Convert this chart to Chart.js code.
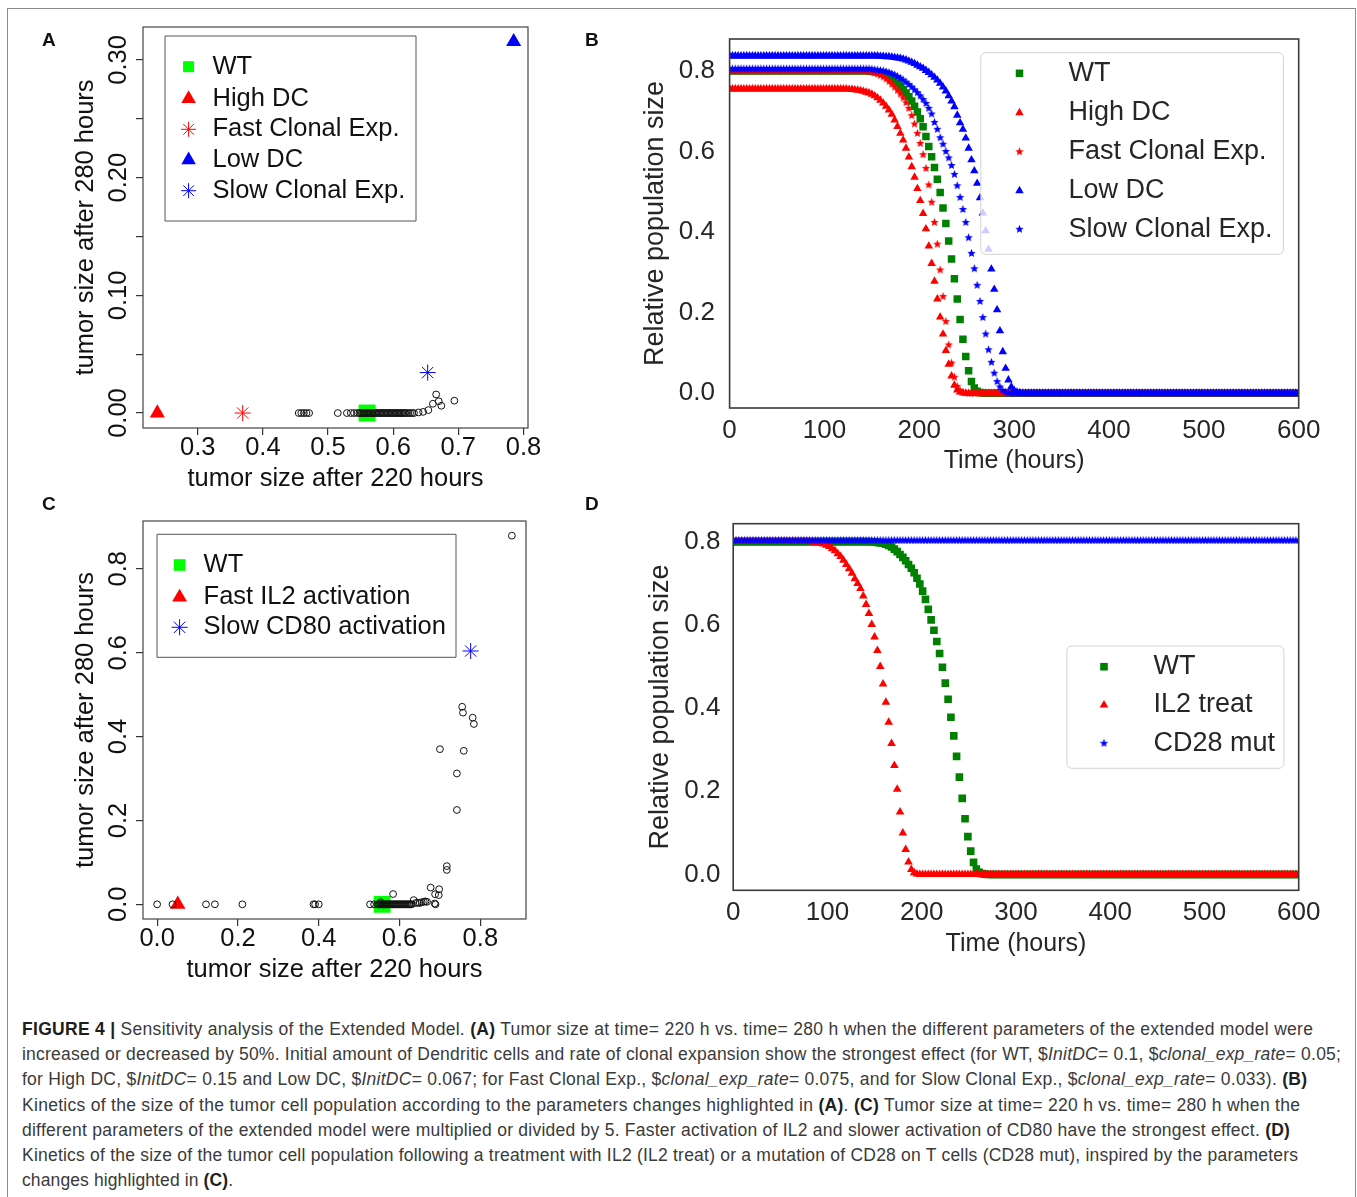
<!DOCTYPE html>
<html lang="en">
<head>
<meta charset="utf-8">
<title>Figure 4</title>
<script src="https://cdn.jsdelivr.net/npm/chart.js@4.4.1/dist/chart.umd.min.js"></script>
<style>
  html, body { margin:0; padding:0; background:#ffffff; }
  body { width:1357px; height:1197px; overflow:hidden; position:relative; font-family:'Liberation Sans', Arial, Helvetica, sans-serif; }
  #frame { position:absolute; left:7px; top:8px; width:1349px; height:1200px; border:1px solid #8c8c8c; box-sizing:border-box; }
  canvas { position:absolute; }
  .plabel { position:absolute; font-weight:bold; font-size:19px; line-height:19px; color:#111; }
  #caption { position:absolute; left:22px; top:1017px; font-size:17.5px; line-height:25.2px; color:#3a3a3a; }
  #caption .ln { white-space:nowrap; }
  #caption b { color:#1e1e1e; }
</style>
</head>
<body>
<div id="frame"></div>
<canvas id="chartA" width="565" height="495" style="left:0px;top:0px"></canvas>
<canvas id="chartB" width="792" height="495" style="left:565px;top:0px"></canvas>
<canvas id="chartC" width="565" height="505" style="left:0px;top:495px"></canvas>
<canvas id="chartD" width="792" height="505" style="left:565px;top:495px"></canvas>
<div class="plabel" style="left:42px;top:30px">A</div>
<div class="plabel" style="left:585px;top:30px">B</div>
<div class="plabel" style="left:42px;top:493.5px">C</div>
<div class="plabel" style="left:585px;top:493.5px">D</div>
<div id="caption">
<div class="ln"><span><b>FIGURE 4 |</b> Sensitivity analysis of the Extended Model. <b>(A)</b> Tumor size at time= 220 h vs. time= 280 h when the different parameters of the extended model were</span></div>
<div class="ln"><span>increased or decreased by 50%. Initial amount of Dendritic cells and rate of clonal expansion show the strongest effect (for WT, $<i>InitDC</i>= 0.1, $<i>clonal_exp_rate</i>= 0.05;</span></div>
<div class="ln"><span>for High DC, $<i>InitDC</i>= 0.15 and Low DC, $<i>InitDC</i>= 0.067; for Fast Clonal Exp., $<i>clonal_exp_rate</i>= 0.075, and for Slow Clonal Exp., $<i>clonal_exp_rate</i>= 0.033). <b>(B)</b></span></div>
<div class="ln"><span>Kinetics of the size of the tumor cell population according to the parameters changes highlighted in <b>(A)</b>. <b>(C)</b> Tumor size at time= 220 h vs. time= 280 h when the</span></div>
<div class="ln"><span>different parameters of the extended model were multiplied or divided by 5. Faster activation of IL2 and slower activation of CD80 have the strongest effect. <b>(D)</b></span></div>
<div class="ln"><span>Kinetics of the size of the tumor cell population following a treatment with IL2 (IL2 treat) or a mutation of CD28 on T cells (CD28 mut), inspired by the parameters</span></div>
<div class="ln"><span>changes highlighted in <b>(C)</b>.</span></div>
</div>

<script>
// ===================== DATA =====================
// ---- Panel A : tumor size after 220 h vs after 280 h (parameters +/- 50%) ----
const aSeriesLabels = ['WT', 'High DC', 'Fast Clonal Exp.', 'Low DC', 'Slow Clonal Exp.'];
const aSeriesX = [0.560, 0.238, 0.369, 0.785, 0.653];
const aSeriesY = [0.000, 0.000, 0.000, 0.3155, 0.0344];
const aOtherX = [
  0.455,0.459,0.463,0.467,0.471,
  0.515,0.529,0.535,0.540,0.545,
  0.548,0.550,0.552,0.554,0.556,0.558,0.560,0.562,0.564,0.566,
  0.568,0.570,0.572,0.574,0.576,0.578,0.580,0.582,0.584,0.586,
  0.588,0.590,0.592,0.594,0.596,0.598,0.600,0.602,0.604,0.606,
  0.608,0.610,0.612,0.614,0.616,0.618,0.620,
  0.623,0.626,0.629,0.632,
  0.639,0.646,0.654,0.661,0.666,0.670,0.674,0.694
];
const aOtherY = [
  0,0,0,0,0,
  0,0,0,0,0,
  0,0,0,0,0,0,0,0,0,0,
  0,0,0,0,0,0,0,0,0,0,
  0,0,0,0,0,0,0,0,0,0,
  0,0,0,0,0,0,0,
  0,0,0,0,
  0.0005,0.0010,0.0025,0.0079,0.0158,0.0100,0.0062,0.0105
];
const aXTicks = [0.3, 0.4, 0.5, 0.6, 0.7, 0.8];
const aXTickLabels = ['0.3', '0.4', '0.5', '0.6', '0.7', '0.8'];
const aYTicks = [0, 0.05, 0.10, 0.15, 0.20, 0.25, 0.30];
const aYTickLabels = ['0.00', '', '0.10', '', '0.20', '', '0.30'];

// ---- Panel C : tumor size after 220 h vs after 280 h (parameters x/÷ 5) ----
const cSeriesLabels = ['WT', 'Fast IL2 activation', 'Slow CD80 activation'];
const cSeriesX = [0.557, 0.051, 0.776];
const cSeriesY = [0.000, 0.000, 0.604];
const cOtherX = [
  0.000,0.038,0.121,0.143,0.211,0.387,0.391,0.400,0.527,0.537,
  0.545,0.548,0.550,0.553,0.555,0.558,0.560,0.563,0.565,0.568,
  0.570,0.573,0.575,0.578,0.580,0.583,0.585,0.588,0.590,0.593,
  0.595,0.598,0.600,0.603,0.605,0.608,0.610,0.613,0.615,0.618,
  0.620,0.623,0.625,0.628,0.630,
  0.640,0.645,0.650,0.655,0.660,0.664,0.668,
  0.553,0.584,0.635,0.677,0.688,0.697,0.698,0.687,0.689,0.717,
  0.717,0.700,0.742,0.742,0.755,0.757,0.759,0.781,0.784,0.878
];
const cOtherY = [
  0,0,0,0,0,0,0,0,0,0,
  0,0,0,0,0,0,0,0,0,0,
  0,0,0,0,0,0,0,0,0,0,
  0,0,0,0,0,0,0,0,0,0,
  0,0,0,0,0,
  0.003,0.004,0.003,0.005,0.006,0.007,0.006,
  0.005,0.0245,0.010,0.040,0.024,0.022,0.036,0.002,0.000,0.091,
  0.082,0.370,0.225,0.312,0.471,0.457,0.366,0.445,0.430,0.879
];
const cXTicks = [0, 0.2, 0.4, 0.6, 0.8];
const cXTickLabels = ['0.0', '0.2', '0.4', '0.6', '0.8'];
const cYTicks = [0, 0.2, 0.4, 0.6, 0.8];
const cYTickLabels = ['0.0', '0.2', '0.4', '0.6', '0.8'];

// ---- Panels B and D : relative population size over time ----
const timeHours = [
  0,3,6,9,12,15,18,21,24,27,
  30,33,36,39,42,45,48,51,54,57,
  60,63,66,69,72,75,78,81,84,87,
  90,93,96,99,102,105,108,111,114,117,
  120,123,126,129,132,135,138,141,144,147,
  150,153,156,159,162,165,168,171,174,177,
  180,183,186,189,192,195,198,201,204,207,
  210,213,216,219,222,225,228,231,234,237,
  240,243,246,249,252,255,258,261,264,267,
  270,273,276,279,282,285,288,291,294,297,
  300,303,306,309,312,315,318,321,324,327,
  330,333,336,339,342,345,348,351,354,357,
  360,363,366,369,372,375,378,381,384,387,
  390,393,396,399,402,405,408,411,414,417,
  420,423,426,429,432,435,438,441,444,447,
  450,453,456,459,462,465,468,471,474,477,
  480,483,486,489,492,495,498,501,504,507,
  510,513,516,519,522,525,528,531,534,537,
  540,543,546,549,552,555,558,561,564,567,
  570,573,576,579,582,585,588,591,594,597,
  600
];
const wtSize = [
  0.800,0.800,0.800,0.800,0.800,0.800,0.800,0.800,0.800,0.800,
  0.800,0.800,0.800,0.800,0.800,0.800,0.800,0.800,0.800,0.800,
  0.800,0.800,0.800,0.800,0.800,0.800,0.800,0.800,0.800,0.800,
  0.800,0.800,0.800,0.800,0.800,0.800,0.800,0.800,0.800,0.800,
  0.800,0.800,0.800,0.800,0.800,0.800,0.800,0.800,0.800,0.799,
  0.799,0.798,0.797,0.796,0.794,0.791,0.787,0.782,0.776,0.769,
  0.762,0.754,0.745,0.736,0.725,0.712,0.698,0.681,0.661,0.637,
  0.612,0.587,0.560,0.531,0.498,0.460,0.421,0.378,0.333,0.284,
  0.234,0.183,0.134,0.091,0.056,0.029,0.013,0.005,0.002,0.001,
  0,0,0,0,0,0,0,0,0,0,
  0,0,0,0,0,0,0,0,0,0,
  0,0,0,0,0,0,0,0,0,0,
  0,0,0,0,0,0,0,0,0,0,
  0,0,0,0,0,0,0,0,0,0,
  0,0,0,0,0,0,0,0,0,0,
  0,0,0,0,0,0,0,0,0,0,
  0,0,0,0,0,0,0,0,0,0,
  0,0,0,0,0,0,0,0,0,0,
  0,0,0,0,0,0,0,0,0,0,
  0,0,0,0,0,0,0,0,0,0,
  0
];
const highDCSize = [
  0.755,0.755,0.755,0.755,0.755,0.755,0.755,0.755,0.755,0.755,
  0.755,0.755,0.755,0.755,0.755,0.755,0.755,0.755,0.755,0.755,
  0.755,0.755,0.755,0.755,0.755,0.755,0.755,0.755,0.755,0.755,
  0.755,0.755,0.755,0.755,0.755,0.755,0.755,0.755,0.755,0.755,
  0.755,0.755,0.754,0.754,0.753,0.752,0.751,0.749,0.747,0.745,
  0.742,0.738,0.733,0.727,0.720,0.712,0.703,0.692,0.678,0.662,
  0.645,0.628,0.608,0.586,0.562,0.536,0.508,0.478,0.446,0.408,
  0.365,0.322,0.278,0.234,0.189,0.147,0.106,0.072,0.043,0.020,
  0.008,0.003,0.001,0,0,0,0,0,0,0,
  0,0,0,0,0,0,0,0,0,0,
  0,0,0,0,0,0,0,0,0,0,
  0,0,0,0,0,0,0,0,0,0,
  0,0,0,0,0,0,0,0,0,0,
  0,0,0,0,0,0,0,0,0,0,
  0,0,0,0,0,0,0,0,0,0,
  0,0,0,0,0,0,0,0,0,0,
  0,0,0,0,0,0,0,0,0,0,
  0,0,0,0,0,0,0,0,0,0,
  0,0,0,0,0,0,0,0,0,0,
  0,0,0,0,0,0,0,0,0,0,
  0
];
const fastCESize = [
  0.800,0.800,0.800,0.800,0.800,0.800,0.800,0.800,0.800,0.800,
  0.800,0.800,0.800,0.800,0.800,0.800,0.800,0.800,0.800,0.800,
  0.800,0.800,0.800,0.800,0.800,0.800,0.800,0.800,0.800,0.800,
  0.800,0.800,0.800,0.800,0.800,0.800,0.800,0.800,0.800,0.800,
  0.800,0.800,0.800,0.800,0.800,0.800,0.800,0.800,0.799,0.798,
  0.797,0.795,0.792,0.789,0.785,0.780,0.774,0.767,0.760,0.752,
  0.743,0.733,0.721,0.707,0.689,0.668,0.645,0.620,0.592,0.558,
  0.517,0.474,0.424,0.370,0.306,0.240,0.178,0.120,0.075,0.040,
  0.017,0.006,0.002,0.001,0,0,0,0,0,0,
  0,0,0,0,0,0,0,0,0,0,
  0,0,0,0,0,0,0,0,0,0,
  0,0,0,0,0,0,0,0,0,0,
  0,0,0,0,0,0,0,0,0,0,
  0,0,0,0,0,0,0,0,0,0,
  0,0,0,0,0,0,0,0,0,0,
  0,0,0,0,0,0,0,0,0,0,
  0,0,0,0,0,0,0,0,0,0,
  0,0,0,0,0,0,0,0,0,0,
  0,0,0,0,0,0,0,0,0,0,
  0,0,0,0,0,0,0,0,0,0,
  0
];
const lowDCSize = [
  0.837,0.837,0.837,0.837,0.837,0.837,0.837,0.837,0.837,0.837,
  0.837,0.837,0.837,0.837,0.837,0.837,0.837,0.837,0.837,0.837,
  0.837,0.837,0.837,0.837,0.837,0.837,0.837,0.837,0.837,0.837,
  0.837,0.837,0.837,0.837,0.837,0.837,0.837,0.837,0.837,0.837,
  0.837,0.837,0.837,0.837,0.837,0.837,0.837,0.837,0.837,0.837,
  0.837,0.837,0.837,0.836,0.836,0.835,0.835,0.834,0.833,0.832,
  0.831,0.829,0.827,0.824,0.821,0.818,0.814,0.810,0.806,0.801,
  0.796,0.790,0.784,0.777,0.769,0.760,0.750,0.738,0.725,0.711,
  0.690,0.671,0.655,0.633,0.608,0.579,0.552,0.521,0.485,0.447,
  0.403,0.357,0.308,0.258,0.207,0.155,0.103,0.062,0.033,0.016,
  0.007,0.003,0.001,0,0,0,0,0,0,0,
  0,0,0,0,0,0,0,0,0,0,
  0,0,0,0,0,0,0,0,0,0,
  0,0,0,0,0,0,0,0,0,0,
  0,0,0,0,0,0,0,0,0,0,
  0,0,0,0,0,0,0,0,0,0,
  0,0,0,0,0,0,0,0,0,0,
  0,0,0,0,0,0,0,0,0,0,
  0,0,0,0,0,0,0,0,0,0,
  0,0,0,0,0,0,0,0,0,0,
  0
];
const slowCESize = [
  0.805,0.805,0.805,0.805,0.805,0.805,0.805,0.805,0.805,0.805,
  0.805,0.805,0.805,0.805,0.805,0.805,0.805,0.805,0.805,0.805,
  0.805,0.805,0.805,0.805,0.805,0.805,0.805,0.805,0.805,0.805,
  0.805,0.805,0.805,0.805,0.805,0.805,0.805,0.805,0.805,0.805,
  0.805,0.805,0.805,0.805,0.805,0.805,0.805,0.805,0.805,0.805,
  0.804,0.803,0.802,0.801,0.800,0.798,0.796,0.793,0.790,0.786,
  0.782,0.777,0.772,0.766,0.760,0.753,0.746,0.738,0.729,0.719,
  0.707,0.693,0.672,0.655,0.634,0.618,0.600,0.584,0.565,0.543,
  0.515,0.486,0.456,0.424,0.386,0.347,0.309,0.268,0.228,0.188,
  0.147,0.108,0.077,0.050,0.029,0.016,0.007,0.003,0.001,0,
  0,0,0,0,0,0,0,0,0,0,
  0,0,0,0,0,0,0,0,0,0,
  0,0,0,0,0,0,0,0,0,0,
  0,0,0,0,0,0,0,0,0,0,
  0,0,0,0,0,0,0,0,0,0,
  0,0,0,0,0,0,0,0,0,0,
  0,0,0,0,0,0,0,0,0,0,
  0,0,0,0,0,0,0,0,0,0,
  0,0,0,0,0,0,0,0,0,0,
  0,0,0,0,0,0,0,0,0,0,
  0
];
const il2TreatSize = [
  0.800,0.800,0.800,0.800,0.800,0.800,0.800,0.800,0.800,0.800,
  0.800,0.800,0.800,0.800,0.800,0.800,0.800,0.800,0.800,0.800,
  0.800,0.800,0.800,0.800,0.800,0.800,0.800,0.800,0.799,0.798,
  0.797,0.796,0.794,0.791,0.788,0.783,0.778,0.771,0.764,0.755,
  0.745,0.735,0.724,0.711,0.699,0.687,0.669,0.649,0.627,0.601,
  0.571,0.538,0.500,0.458,0.414,0.366,0.315,0.262,0.205,0.150,
  0.100,0.060,0.030,0.012,0.004,0.001,0,0,0,0,
  0,0,0,0,0,0,0,0,0,0,
  0,0,0,0,0,0,0,0,0,0,
  0,0,0,0,0,0,0,0,0,0,
  0,0,0,0,0,0,0,0,0,0,
  0,0,0,0,0,0,0,0,0,0,
  0,0,0,0,0,0,0,0,0,0,
  0,0,0,0,0,0,0,0,0,0,
  0,0,0,0,0,0,0,0,0,0,
  0,0,0,0,0,0,0,0,0,0,
  0,0,0,0,0,0,0,0,0,0,
  0,0,0,0,0,0,0,0,0,0,
  0,0,0,0,0,0,0,0,0,0,
  0,0,0,0,0,0,0,0,0,0,
  0
];
const cd28MutSize = [
  0.803,0.803,0.803,0.803,0.803,0.803,0.803,0.803,0.803,0.803,
  0.803,0.803,0.803,0.803,0.803,0.803,0.803,0.803,0.803,0.803,
  0.803,0.803,0.803,0.803,0.803,0.803,0.803,0.803,0.803,0.803,
  0.803,0.803,0.803,0.803,0.803,0.803,0.803,0.803,0.803,0.803,
  0.803,0.803,0.803,0.803,0.803,0.803,0.803,0.803,0.803,0.803,
  0.803,0.803,0.803,0.803,0.803,0.803,0.803,0.803,0.803,0.803,
  0.803,0.803,0.803,0.803,0.803,0.803,0.803,0.803,0.803,0.803,
  0.803,0.803,0.803,0.803,0.803,0.803,0.803,0.803,0.803,0.803,
  0.803,0.803,0.803,0.803,0.803,0.803,0.803,0.803,0.803,0.803,
  0.803,0.803,0.803,0.803,0.803,0.803,0.803,0.803,0.803,0.803,
  0.803,0.803,0.803,0.803,0.803,0.803,0.803,0.803,0.803,0.803,
  0.803,0.803,0.803,0.803,0.803,0.803,0.803,0.803,0.803,0.803,
  0.803,0.803,0.803,0.803,0.803,0.803,0.803,0.803,0.803,0.803,
  0.803,0.803,0.803,0.803,0.803,0.803,0.803,0.803,0.803,0.803,
  0.803,0.803,0.803,0.803,0.803,0.803,0.803,0.803,0.803,0.803,
  0.803,0.803,0.803,0.803,0.803,0.803,0.803,0.803,0.803,0.803,
  0.803,0.803,0.803,0.803,0.803,0.803,0.803,0.803,0.803,0.803,
  0.803,0.803,0.803,0.803,0.803,0.803,0.803,0.803,0.803,0.803,
  0.803,0.803,0.803,0.803,0.803,0.803,0.803,0.803,0.803,0.803,
  0.803,0.803,0.803,0.803,0.803,0.803,0.803,0.803,0.803,0.803,
  0.803
];
const bLabels = ['WT', 'High DC', 'Fast Clonal Exp.', 'Low DC', 'Slow Clonal Exp.'];
const dLabels = ['WT', 'IL2 treat', 'CD28 mut'];
const timeTicks = [0, 100, 200, 300, 400, 500, 600];
const timeTickLabels = ['0', '100', '200', '300', '400', '500', '600'];
const popTicks = [0, 0.2, 0.4, 0.6, 0.8];
const popTickLabels = ['0.0', '0.2', '0.4', '0.6', '0.8'];

// ===================== RENDERING =====================
const FAM = "'Liberation Sans', Arial, Helvetica, sans-serif";
const R_GREEN = '#00ff00', R_RED = '#ff0000', R_BLUE = '#0000ff';
const M_GREEN = '#008000', M_RED = '#ff0000', M_BLUE = '#0000ff';
const R_TEXT = '#111111', M_TEXT = '#262626';

[wtSize, highDCSize, fastCESize, lowDCSize, slowCESize, il2TreatSize, cd28MutSize].forEach((a, k) => {
  if (a.length !== timeHours.length) console.error('length mismatch', k, a.length, timeHours.length);
});

function series(xs, ys) { return xs.map((x, i) => ({ x: x, y: ys[i] })); }

function starMarker(color, R) {
  const s = Math.ceil(R * 2 + 2);
  const c = document.createElement('canvas');
  c.width = s; c.height = s;
  const g = c.getContext('2d');
  g.fillStyle = color;
  g.beginPath();
  for (let k = 0; k < 10; k++) {
    const rr = (k % 2 === 0) ? R : R * 0.45;
    const a = -Math.PI / 2 + k * Math.PI / 5;
    const px = s / 2 + rr * Math.cos(a), py = s / 2 + rr * Math.sin(a);
    if (k === 0) g.moveTo(px, py); else g.lineTo(px, py);
  }
  g.closePath();
  g.fill();
  return c;
}

function drawMarker(ctx, style, r, x, y, fill, stroke, bw) {
  ctx.save();
  if (typeof style === 'object') {
    ctx.drawImage(style, x - style.width / 2, y - style.height / 2, style.width, style.height);
    ctx.restore();
    return;
  }
  ctx.beginPath();
  if (style === 'rect') {
    const s = r * Math.SQRT1_2;
    ctx.rect(x - s, y - s, 2 * s, 2 * s);
    ctx.fillStyle = fill; ctx.fill();
  } else if (style === 'triangle') {
    const t = 2 * Math.PI / 3;
    ctx.moveTo(x, y - r);
    ctx.lineTo(x + Math.sin(t) * r, y - Math.cos(t) * r);
    ctx.lineTo(x + Math.sin(2 * t) * r, y - Math.cos(2 * t) * r);
    ctx.closePath();
    ctx.fillStyle = fill; ctx.fill();
  } else if (style === 'star') {
    const d = r * Math.SQRT1_2;
    ctx.moveTo(x, y - r); ctx.lineTo(x, y + r);
    ctx.moveTo(x - r, y); ctx.lineTo(x + r, y);
    ctx.moveTo(x - d, y - d); ctx.lineTo(x + d, y + d);
    ctx.moveTo(x - d, y + d); ctx.lineTo(x + d, y - d);
    ctx.strokeStyle = stroke; ctx.lineWidth = bw || 1; ctx.stroke();
  }
  ctx.restore();
}

function pathRound(ctx, x, y, w, h, r) {
  ctx.beginPath();
  ctx.moveTo(x + r, y);
  ctx.arcTo(x + w, y, x + w, y + h, r);
  ctx.arcTo(x + w, y + h, x, y + h, r);
  ctx.arcTo(x, y + h, x, y, r);
  ctx.arcTo(x, y, x + w, y, r);
  ctx.closePath();
}

function framePlugin(color, width) {
  return {
    id: 'frameBox',
    afterDatasetsDraw(chart) {
      const a = chart.chartArea, ctx = chart.ctx;
      ctx.save();
      ctx.strokeStyle = color; ctx.lineWidth = width;
      ctx.strokeRect(a.left, a.top, a.right - a.left, a.bottom - a.top);
      ctx.restore();
    }
  };
}

function rotatedYLabels(values, labels, baselineX, font, color) {
  return {
    id: 'rotYLabels',
    afterDraw(chart) {
      const ys = chart.scales.y, ctx = chart.ctx;
      ctx.save();
      ctx.font = font; ctx.fillStyle = color;
      ctx.textAlign = 'center'; ctx.textBaseline = 'alphabetic';
      values.forEach((v, i) => {
        if (!labels[i]) return;
        const py = ys.getPixelForValue(v);
        ctx.save();
        ctx.translate(baselineX, py);
        ctx.rotate(-Math.PI / 2);
        ctx.fillText(labels[i], 0, 0);
        ctx.restore();
      });
      ctx.restore();
    }
  };
}

function boxLegend(cfg) {
  return {
    id: 'boxLegend',
    afterDatasetsDraw(chart) {
      const ctx = chart.ctx;
      ctx.save();
      pathRound(ctx, cfg.x, cfg.y, cfg.w, cfg.h, cfg.radius || 0.01);
      if (cfg.fill) { ctx.fillStyle = cfg.fill; ctx.fill(); }
      ctx.strokeStyle = cfg.stroke; ctx.lineWidth = cfg.lineWidth; ctx.stroke();
      cfg.items.forEach((it, i) => {
        const ds = chart.data.datasets[it.ds];
        const y = cfg.rows[i];
        drawMarker(ctx, ds.pointStyle, it.r, cfg.markerX, y, ds.backgroundColor, ds.borderColor, ds.borderWidth);
        ctx.fillStyle = cfg.textColor; ctx.font = cfg.font;
        ctx.textAlign = 'left'; ctx.textBaseline = 'middle';
        ctx.fillText(ds.label, cfg.textX, y);
      });
      ctx.restore();
    }
  };
}

function fixedTicks(values) {
  return function (scale) { scale.ticks = values.map(v => ({ value: v })); };
}

function baseOptions(pad) {
  return {
    responsive: false, maintainAspectRatio: false, animation: false, events: [],
    layout: { padding: pad },
    plugins: { legend: { display: false }, tooltip: { enabled: false }, title: { display: false } }
  };
}

// ---------- R-style scatter panels (A, C) ----------
function rScales(o) {
  return {
    x: {
      type: 'linear', position: 'bottom', min: o.xMin, max: o.xMax, bounds: 'data',
      afterBuildTicks: fixedTicks(o.xTicks),
      afterFit: s => { s.height = o.xHeight; },
      ticks: { display: true, autoSkip: false, maxRotation: 0, minRotation: 0, padding: o.xTickPad,
               font: { family: FAM, size: 25.5, lineHeight: 1 }, color: R_TEXT,
               callback: (v, i) => o.xTickLabels[i] },
      grid: { display: true, drawOnChartArea: false, drawTicks: true, tickLength: 7, color: '#333', lineWidth: 1.2 },
      border: { display: false },
      title: { display: true, text: o.xTitle, color: R_TEXT, font: { family: FAM, size: 25.5, lineHeight: 1.2 },
               padding: { top: 0, bottom: o.xTitlePad } }
    },
    y: {
      type: 'linear', position: 'left', min: o.yMin, max: o.yMax, bounds: 'data',
      afterBuildTicks: fixedTicks(o.yTicks),
      afterFit: s => { s.width = o.yWidth; },
      ticks: { display: false },
      grid: { display: true, drawOnChartArea: false, drawTicks: true, tickLength: 7, color: '#333', lineWidth: 1.2 },
      border: { display: false },
      title: { display: true, text: o.yTitle, color: R_TEXT, font: { family: FAM, size: 25.5, lineHeight: 1.2 },
               padding: { top: o.yTitlePad, bottom: 0 } }
    }
  };
}

// Panel A
new Chart(document.getElementById('chartA'), {
  type: 'scatter',
  data: { datasets: [
    { label: aSeriesLabels[0], data: [{ x: aSeriesX[0], y: aSeriesY[0] }], pointStyle: 'rect', pointRadius: 12,
      backgroundColor: R_GREEN, borderColor: R_GREEN, borderWidth: 0, order: 5, clip: false },
    { label: aSeriesLabels[1], data: [{ x: aSeriesX[1], y: aSeriesY[1] }], pointStyle: 'triangle', pointRadius: 8.7,
      backgroundColor: R_RED, borderColor: R_RED, borderWidth: 0, order: 4, clip: false },
    { label: aSeriesLabels[2], data: [{ x: aSeriesX[2], y: aSeriesY[2] }], pointStyle: 'star', pointRadius: 8,
      backgroundColor: R_RED, borderColor: R_RED, borderWidth: 1, order: 3, clip: false },
    { label: aSeriesLabels[3], data: [{ x: aSeriesX[3], y: aSeriesY[3] }], pointStyle: 'triangle', pointRadius: 8.7,
      backgroundColor: R_BLUE, borderColor: R_BLUE, borderWidth: 0, order: 2, clip: false },
    { label: aSeriesLabels[4], data: [{ x: aSeriesX[4], y: aSeriesY[4] }], pointStyle: 'star', pointRadius: 8,
      backgroundColor: R_BLUE, borderColor: R_BLUE, borderWidth: 1, order: 1, clip: false },
    { label: '', data: series(aOtherX, aOtherY), pointStyle: 'circle', pointRadius: 3.4,
      backgroundColor: 'rgba(0,0,0,0)', borderColor: '#111', borderWidth: 1, order: 0, clip: false }
  ] },
  options: Object.assign(baseOptions({ left: 0, top: 27, right: 37, bottom: 0 }), {
    scales: rScales({ xMin: 0.216, xMax: 0.807, yMin: -0.0127, yMax: 0.328,
      xTicks: aXTicks, xTickLabels: aXTickLabels, yTicks: aYTicks,
      xHeight: 67, yWidth: 143, xTickPad: 0, xTitlePad: 0.5, yTitlePad: 71,
      xTitle: 'tumor size after 220 hours', yTitle: 'tumor size after 280 hours' })
  }),
  plugins: [
    framePlugin('#444', 1.2),
    rotatedYLabels(aYTicks, aYTickLabels, 126, "25.5px " + FAM, R_TEXT),
    boxLegend({ x: 165, y: 36, w: 251, h: 185, radius: 0, stroke: '#555', lineWidth: 1, fill: null,
      rows: [66.7, 98.7, 129.3, 160, 190.7], markerX: 188.6, textX: 212.5,
      font: "25.5px " + FAM, textColor: R_TEXT,
      items: [{ ds: 0, r: 7.8 }, { ds: 1, r: 8.4 }, { ds: 2, r: 7.5 }, { ds: 3, r: 8.4 }, { ds: 4, r: 7.5 }] })
  ]
});

// Panel C
new Chart(document.getElementById('chartC'), {
  type: 'scatter',
  data: { datasets: [
    { label: cSeriesLabels[0], data: [{ x: cSeriesX[0], y: cSeriesY[0] }], pointStyle: 'rect', pointRadius: 11.9,
      backgroundColor: R_GREEN, borderColor: R_GREEN, borderWidth: 0, order: 3, clip: false },
    { label: cSeriesLabels[1], data: [{ x: cSeriesX[1], y: cSeriesY[1] }], pointStyle: 'triangle', pointRadius: 8.9,
      backgroundColor: R_RED, borderColor: R_RED, borderWidth: 0, order: 2, clip: false },
    { label: cSeriesLabels[2], data: [{ x: cSeriesX[2], y: cSeriesY[2] }], pointStyle: 'star', pointRadius: 8,
      backgroundColor: R_BLUE, borderColor: R_BLUE, borderWidth: 1, order: 1, clip: false },
    { label: '', data: series(cOtherX, cOtherY), pointStyle: 'circle', pointRadius: 3.4,
      backgroundColor: 'rgba(0,0,0,0)', borderColor: '#111', borderWidth: 1, order: 0, clip: false }
  ] },
  options: Object.assign(baseOptions({ left: 0, top: 26, right: 39, bottom: 0 }), {
    scales: rScales({ xMin: -0.035, xMax: 0.913, yMin: -0.035, yMax: 0.914,
      xTicks: cXTicks, xTickLabels: cXTickLabels, yTicks: cYTicks,
      xHeight: 81, yWidth: 143, xTickPad: 0, xTitlePad: 14.7, yTitlePad: 71,
      xTitle: 'tumor size after 220 hours', yTitle: 'tumor size after 280 hours' })
  }),
  plugins: [
    framePlugin('#444', 1.2),
    rotatedYLabels(cYTicks, cYTickLabels, 126, "25.5px " + FAM, R_TEXT),
    boxLegend({ x: 157, y: 39.3, w: 299, h: 123, radius: 0, stroke: '#555', lineWidth: 1, fill: null,
      rows: [70, 102.3, 132.3], markerX: 179.6, textX: 203.6,
      font: "25.5px " + FAM, textColor: R_TEXT,
      items: [{ ds: 0, r: 8.2 }, { ds: 1, r: 8.6 }, { ds: 2, r: 8 }] })
  ]
});

// ---------- matplotlib-style time-course panels (B, D) ----------
function mScales(o) {
  return {
    x: {
      type: 'linear', position: 'bottom', min: 0, max: 600, bounds: 'data',
      afterBuildTicks: fixedTicks(timeTicks),
      afterFit: s => { s.height = o.xHeight; },
      ticks: { display: true, autoSkip: false, maxRotation: 0, minRotation: 0, padding: o.xTickPad,
               font: { family: FAM, size: 26, lineHeight: 1.2 }, color: M_TEXT,
               callback: (v, i) => timeTickLabels[i] },
      grid: { display: false, drawTicks: false },
      border: { display: false },
      title: { display: true, text: 'Time (hours)', color: M_TEXT, font: { family: FAM, size: 25, lineHeight: 1.2 },
               padding: { top: 0, bottom: o.xTitlePad } }
    },
    y: {
      type: 'linear', position: 'left', min: o.yMin, max: o.yMax, bounds: 'data',
      afterBuildTicks: fixedTicks(popTicks),
      afterFit: s => { s.width = o.yWidth; },
      ticks: { display: true, autoSkip: false, padding: o.yTickPad,
               font: { family: FAM, size: 26, lineHeight: 1.2 }, color: M_TEXT,
               callback: (v, i) => popTickLabels[i] },
      grid: { display: false, drawTicks: false },
      border: { display: false },
      title: { display: true, text: 'Relative population size', color: M_TEXT, font: { family: FAM, size: 27, lineHeight: 1.2 },
               padding: { top: o.yTitlePad, bottom: 0 } }
    }
  };
}

const starRed = starMarker(M_RED, 4.4);
const starBlue = starMarker(M_BLUE, 4.4);

// Panel B
new Chart(document.getElementById('chartB'), {
  type: 'scatter',
  data: { datasets: [
    { label: bLabels[0], data: series(timeHours, wtSize), pointStyle: 'rect', pointRadius: 5.3,
      backgroundColor: M_GREEN, borderColor: M_GREEN, borderWidth: 0, order: 5 },
    { label: bLabels[1], data: series(timeHours, highDCSize), pointStyle: 'triangle', pointRadius: 4.9,
      backgroundColor: M_RED, borderColor: M_RED, borderWidth: 0, order: 4 },
    { label: bLabels[2], data: series(timeHours, fastCESize), pointStyle: starRed, pointRadius: 4.4,
      backgroundColor: M_RED, borderColor: M_RED, borderWidth: 0, order: 3 },
    { label: bLabels[3], data: series(timeHours, lowDCSize), pointStyle: 'triangle', pointRadius: 4.9,
      backgroundColor: M_BLUE, borderColor: M_BLUE, borderWidth: 0, order: 2 },
    { label: bLabels[4], data: series(timeHours, slowCESize), pointStyle: starBlue, pointRadius: 4.4,
      backgroundColor: M_BLUE, borderColor: M_BLUE, borderWidth: 0, order: 1 }
  ] },
  options: Object.assign(baseOptions({ left: 0, top: 39, right: 58.3, bottom: 0 }), {
    scales: mScales({ yMin: -0.0365, yMax: 0.879, xHeight: 87, yWidth: 164.6,
      xTickPad: 7.6, yTickPad: 14.6, xTitlePad: 18.8, yTitlePad: 74.5 })
  }),
  plugins: [
    framePlugin('#3a3a3a', 1.6),
    boxLegend({ x: 415.8, y: 52.7, w: 302.6, h: 201.6, radius: 5, stroke: '#d2d2d2', lineWidth: 1,
      fill: 'rgba(255,255,255,0.8)',
      rows: [73.3, 112.7, 151.7, 190.7, 229.3], markerX: 454.5, textX: 503.4,
      font: "27px " + FAM, textColor: M_TEXT,
      items: [{ ds: 0, r: 5.3 }, { ds: 1, r: 4.9 }, { ds: 2, r: 4.4 }, { ds: 3, r: 4.9 }, { ds: 4, r: 4.4 }] })
  ]
});

// Panel D
new Chart(document.getElementById('chartD'), {
  type: 'scatter',
  data: { datasets: [
    { label: dLabels[0], data: series(timeHours, wtSize), pointStyle: 'rect', pointRadius: 5.4,
      backgroundColor: M_GREEN, borderColor: M_GREEN, borderWidth: 0, order: 3 },
    { label: dLabels[1], data: series(timeHours, il2TreatSize), pointStyle: 'triangle', pointRadius: 5,
      backgroundColor: M_RED, borderColor: M_RED, borderWidth: 0, order: 2 },
    { label: dLabels[2], data: series(timeHours, cd28MutSize), pointStyle: starBlue, pointRadius: 4.4,
      backgroundColor: M_BLUE, borderColor: M_BLUE, borderWidth: 0, order: 1 }
  ] },
  options: Object.assign(baseOptions({ left: 0, top: 28.7, right: 58.3, bottom: 0 }), {
    scales: mScales({ yMin: -0.038, yMax: 0.843, xHeight: 109.7, yWidth: 168.2,
      xTickPad: 7.4, yTickPad: 12.7, xTitlePad: 40.6, yTitlePad: 79.7 })
  }),
  plugins: [
    framePlugin('#3a3a3a', 1.6),
    boxLegend({ x: 501.9, y: 151, w: 217, h: 122.3, radius: 5, stroke: '#d2d2d2', lineWidth: 1,
      fill: 'rgba(255,255,255,0.8)',
      rows: [171.7, 210, 248.3], markerX: 539, textX: 588.5,
      font: "27px " + FAM, textColor: M_TEXT,
      items: [{ ds: 0, r: 5.4 }, { ds: 1, r: 5 }, { ds: 2, r: 4.4 }] })
  ]
});

// ---------- caption line fitting (match the reference line ends) ----------
const captionLineEnds = [1313, 1341, 1307, 1300, 1290, 1298, 233];
function fitCaption() {
  const spans = document.querySelectorAll('#caption .ln > span');
  spans.forEach((sp, i) => {
    sp.style.letterSpacing = '0px';
    const r = sp.getBoundingClientRect();
    const n = sp.textContent.length;
    const target = captionLineEnds[i] - r.left;
    const ls = (target - r.width) / Math.max(1, n - 1);
    if (Math.abs(ls) < 1.2) sp.style.letterSpacing = ls.toFixed(3) + 'px';
  });
}
fitCaption();
if (document.fonts && document.fonts.ready) document.fonts.ready.then(fitCaption);
</script>
</body>
</html>
